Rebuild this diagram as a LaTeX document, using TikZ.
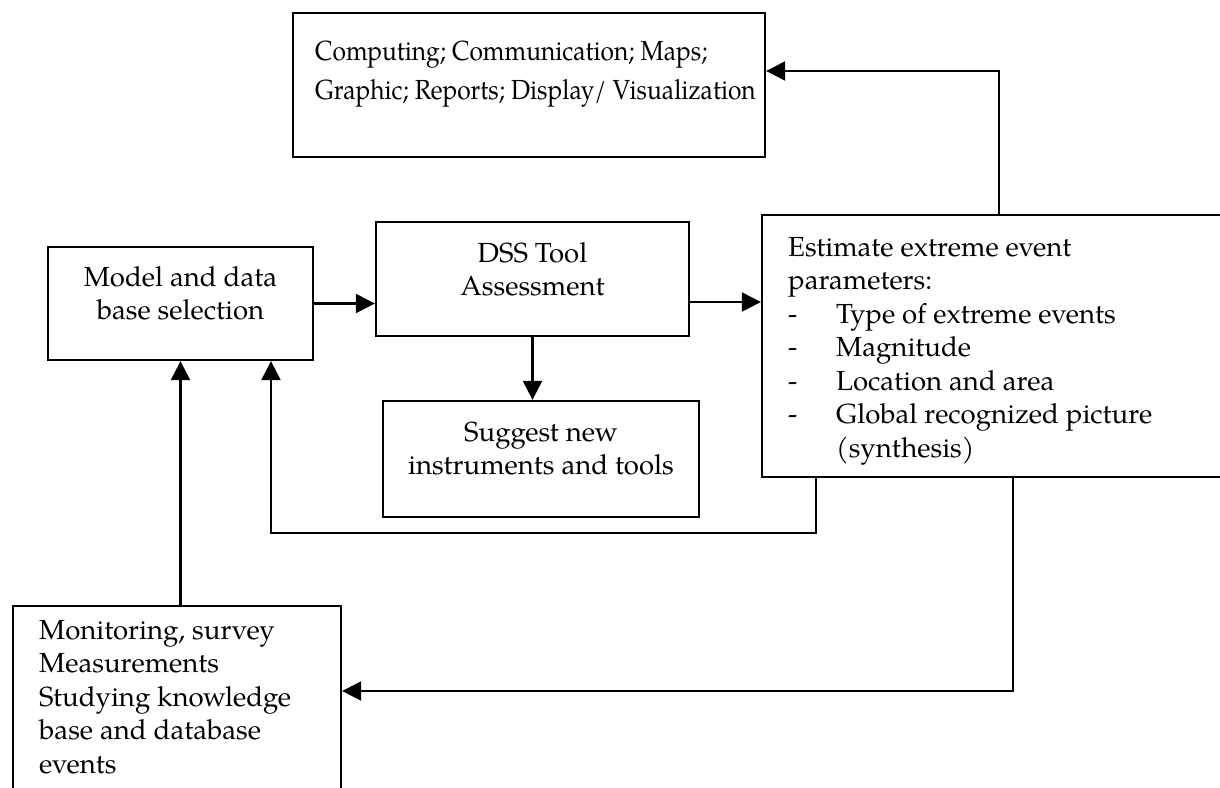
\documentclass[tikz,border=0pt]{standalone}
\usepackage{fontspec}
\setmainfont{TeX Gyre Pagella}
\newfontfamily\condpag[FakeStretch=0.89]{TeX Gyre Pagella}
\usetikzlibrary{arrows.meta}
\begin{document}
\begin{tikzpicture}[x=1pt,y=-1pt,
  box/.style={draw=black,line width=2.3pt,rectangle,inner sep=0pt},
  arr/.style={draw=black,line width=2.3pt,-{Triangle[length=19pt,width=19pt]}},
  txt/.style={inner sep=0pt,font=\fontsize{27.6}{33}\selectfont},
  txtb/.style={inner sep=0pt,font=\fontsize{27.6}{33.5}\selectfont},
]
\useasboundingbox (0,0) rectangle (1220,787);
\clip (0,0) rectangle (1220,787);
% boxes
\node[box,minimum width=472pt,minimum height=144pt] (top) at (529,85) {};
\node[box,minimum width=265pt,minimum height=113pt] (model) at (180.5,303.5) {};
\node[box,minimum width=313pt,minimum height=114pt] (dss) at (532.5,279) {};
\node[box,minimum width=316pt,minimum height=116pt] (sug) at (541,459) {};
\node[box,minimum width=466pt,minimum height=262pt] (est) at (995,346) {};
\node[box,minimum width=328pt,minimum height=194pt] (mon) at (177,703) {};
% texts
\node[txt,anchor=north west,align=left,font=\condpag\fontsize{27.6}{39}\selectfont] (toptext) at (315,32.7)
  {\strut Computing; Communication; Maps;\\Graphic; Reports; Display/ Visualization};
\node[txt,anchor=north,align=center] (modeltext) at (180.5,262.9) {\strut Model and data\\base selection};
\node[txt,anchor=north,align=center] (dsstext) at (532.5,238.9) {\strut DSS Tool\\Assessment};
\node[txt,anchor=north,align=center] (sugtext) at (541,417.9) {\strut Suggest new\\instruments and tools};
\node[txtb,anchor=north west,align=left] (esttext) at (788,232.55)
  {\strut Estimate extreme event\\
   parameters:\\
   \makebox[48pt][l]{-}Type of extreme events\\
   \makebox[48pt][l]{-}Magnitude\\
   \makebox[48pt][l]{-}Location and area\\
   \makebox[48pt][l]{-}Global recognized picture\\
   \hspace*{48pt}(synthesis)};
\node[txtb,anchor=north west,align=left] (montext) at (39,615.55)
  {\strut Monitoring, survey\\Measurements\\Studying knowledge\\base and database\\events};
% connectors
\draw[arr] (model.east) -- (model.east -| dss.west);
\draw[arr] ([yshift=-23pt]dss.east) -- ([yshift=-23pt]dss.east -| est.west);
\draw[arr] (dss.south) -- (dss.south |- sug.north);
\draw[arr] ([xshift=4pt]est.north) |- ([yshift=14pt]top.east);
\coordinate (fb) at (816,533);
\draw[arr] (fb |- est.south) -- (fb) -| ([xshift=90.5pt]model.south);
\draw[arr] (mon.north -| model.south) -- (model.south);
\draw[arr] ([xshift=18pt]est.south) |- ([yshift=12pt]mon.east);
\end{tikzpicture}
\end{document}
